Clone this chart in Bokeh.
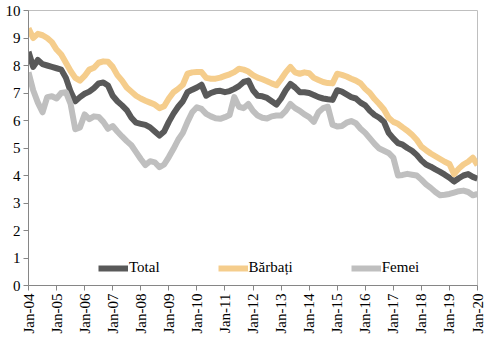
import math
from bokeh.plotting import figure
from bokeh.models import Range1d, FixedTicker, Legend, LegendItem
from bokeh.embed import file_html
from bokeh.resources import INLINE

# month offsets from Jan-2004 (every 2 months)
months = list(range(0, 193, 2))

total = [8.5, 7.95, 8.2, 8.05, 8.0, 7.95, 7.9, 7.85, 7.55, 7.05, 6.7, 6.85,
         6.97, 7.05, 7.18, 7.35, 7.38, 7.27, 6.9, 6.7, 6.55, 6.38, 6.1, 5.92,
         5.88, 5.84, 5.75, 5.6, 5.45, 5.6, 5.95, 6.25, 6.5, 6.7, 7.03, 7.12,
         7.2, 7.3, 6.9, 7.0, 7.06, 7.08, 7.03, 7.07, 7.15, 7.25, 7.4, 7.45,
         7.1, 6.9, 6.88, 6.82, 6.7, 6.58, 6.8, 7.1, 7.33, 7.2, 7.03, 7.03,
         7.0, 6.93, 6.85, 6.8, 6.77, 6.75, 7.1, 7.05, 6.95, 6.85, 6.8, 6.65,
         6.55, 6.35, 6.2, 6.1, 5.95, 5.55, 5.35, 5.18, 5.12, 5.0, 4.9, 4.75,
         4.55, 4.4, 4.32, 4.22, 4.13, 4.03, 3.92, 3.78, 3.9, 4.0, 4.05, 3.95,
         3.88]

barbati = [9.35, 9.0, 9.15, 9.1, 9.0, 8.85, 8.58, 8.4, 8.1, 7.8, 7.55, 7.45,
           7.62, 7.85, 7.92, 8.1, 8.15, 8.14, 7.95, 7.65, 7.45, 7.2, 7.05, 6.9,
           6.8, 6.72, 6.65, 6.58, 6.45, 6.52, 6.8, 7.03, 7.15, 7.3, 7.7, 7.75,
           7.76, 7.76, 7.55, 7.52, 7.52, 7.56, 7.62, 7.68, 7.76, 7.88, 7.85, 7.78,
           7.65, 7.56, 7.5, 7.43, 7.35, 7.28, 7.5, 7.75, 7.95, 7.75, 7.7, 7.75,
           7.72, 7.55, 7.47, 7.4, 7.36, 7.35, 7.7, 7.66, 7.6, 7.52, 7.45, 7.35,
           7.15, 7.0, 6.78, 6.6, 6.4, 6.1, 5.95, 5.88, 5.75, 5.63, 5.48, 5.3,
           5.05, 4.92, 4.8, 4.7, 4.6, 4.5, 4.42, 4.05, 4.25, 4.4, 4.5, 4.65,
           4.38]

femei = [7.75, 7.1, 6.65, 6.3, 6.85, 6.88, 6.8, 7.0, 7.03, 6.6, 5.68, 5.75,
         6.22, 6.05, 6.15, 6.13, 5.95, 5.7, 5.8, 5.6, 5.42, 5.25, 5.1, 4.85,
         4.6, 4.38, 4.52, 4.48, 4.3, 4.4, 4.67, 4.97, 5.3, 5.55, 5.95, 6.3,
         6.48, 6.42, 6.24, 6.15, 6.08, 6.06, 6.12, 6.2, 6.85, 6.5, 6.45, 6.6,
         6.35, 6.18, 6.1, 6.07, 6.15, 6.18, 6.18, 6.35, 6.6, 6.45, 6.35, 6.22,
         6.12, 5.95, 6.3, 6.45, 6.5, 5.85, 5.78, 5.8, 5.92, 5.98, 5.9, 5.7,
         5.55, 5.35, 5.15, 4.98, 4.9, 4.82, 4.65, 4.0, 4.02, 4.06, 4.03, 4.0,
         3.85, 3.68, 3.55, 3.4, 3.28, 3.3, 3.33, 3.38, 3.43, 3.45, 3.4, 3.28,
         3.33]

tick_months = list(range(0, 193, 12))
tick_labels = ["Jan-04", "Jan-05", "Jan-06", "Jan-07", "Jan-08", "Jan-09",
               "Jan-10", "Jan-11", "Jan-12", "Jan-13", "Jan-14", "Jan-15",
               "Jan-16", "Jan-17", "Jan-18", "Jan-19", "Jan-20"]
y_ticks = list(range(0, 11))

FONT = "'Liberation Serif', 'DejaVu Serif', serif"

p = figure(frame_width=449, frame_height=275, output_backend="svg",
           toolbar_location=None, x_range=Range1d(0, 192), y_range=Range1d(0, 10),
           min_border_left=28, min_border_right=12, min_border_top=10,
           min_border_bottom=58)
p.background_fill_color = "white"
p.border_fill_color = "white"
p.outline_line_color = "#BFBFBF"
p.xgrid.visible = False
p.ygrid.visible = False

lw = 6
r_total = p.line(months, total, line_color="#595959", line_width=lw, line_join="round")
r_barb = p.line(months, barbati, line_color="#F5CD8C", line_width=lw, line_join="round")
r_fem = p.line(months, femei, line_color="#BFBFBF", line_width=lw, line_join="round")

for ax in (p.xaxis[0], p.yaxis[0]):
    ax.axis_line_color = "#868686"
    ax.major_tick_line_color = "#868686"
    ax.major_tick_in = 0
    ax.major_tick_out = 5
    ax.minor_tick_line_color = None
    ax.major_label_text_font = FONT
    ax.major_label_text_font_size = "15px"
    ax.major_label_text_color = "black"
    ax.major_label_standoff = 3

p.xaxis.ticker = FixedTicker(ticks=tick_months)
p.xaxis.major_label_overrides = {m: l for m, l in zip(tick_months, tick_labels)}
p.xaxis.major_label_orientation = math.pi / 2
p.yaxis.ticker = FixedTicker(ticks=y_ticks)

legend = Legend(items=[LegendItem(label="Total", renderers=[r_total]),
                       LegendItem(label="Bărbați", renderers=[r_barb]),
                       LegendItem(label="Femei", renderers=[r_fem])],
                orientation="horizontal", location=(70, 9), spacing=58,
                padding=0, margin=0, border_line_color=None,
                background_fill_alpha=0, glyph_width=30, glyph_height=16,
                label_height=16, label_standoff=1, label_text_font=FONT,
                label_text_font_size="15px", label_text_color="black")
p.add_layout(legend)

open("out.html", "w").write(file_html(p, INLINE))
